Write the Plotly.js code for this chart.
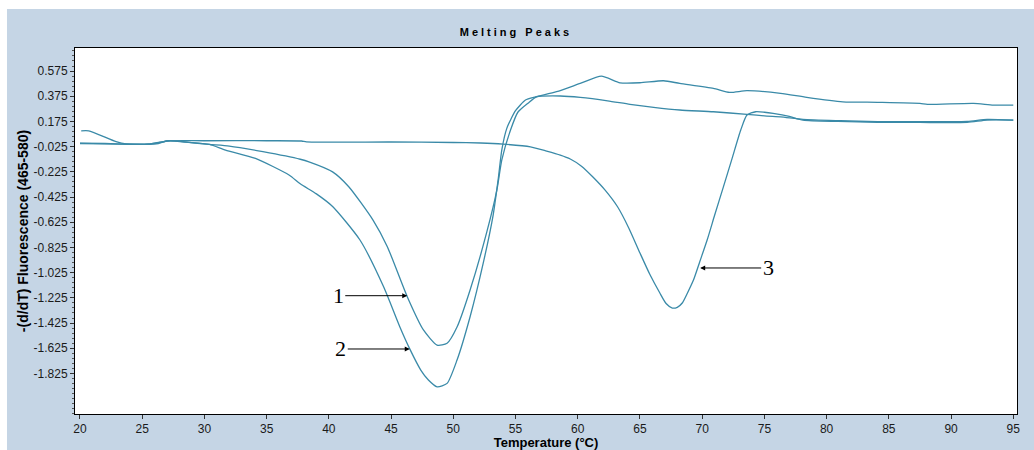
<!DOCTYPE html>
<html>
<head>
<meta charset="utf-8">
<script src="https://cdn.plot.ly/plotly-3.0.1.min.js"></script>
<style>html,body{margin:0;padding:0;background:#fff;}#chart{width:1034px;height:450px;}</style>
</head>
<body>
<div id="chart"></div>
<script>
// Temperature (°C) and -(d/dT) Fluorescence values
const t1 = [20.1, 20.7, 22.9, 23.7, 25.5, 26.4, 27.2, 28.5, 30.4, 32.0, 34.7, 37.7, 38.4, 40.3, 41.6, 43.55, 44.7, 46.3, 47.6, 48.7, 49.5, 50.3, 51.35, 52.7, 53.5, 53.9, 54.6, 55.2, 56.0, 56.7, 58.6, 60.2, 62.4, 64.2, 66.1, 68.2, 70.9, 73.6, 75.2, 76.3, 78.1, 81.1, 84.1, 86.5, 91.3, 92.9, 95.0];
const v1 = [0.101, 0.101, 0.014, -0.004, -0.004, 0.010, 0.022, 0.011, -0.007, -0.020, -0.065, -0.125, -0.145, -0.225, -0.343, -0.608, -0.819, -1.216, -1.480, -1.600, -1.586, -1.457, -1.163, -0.700, -0.370, -0.130, 0.107, 0.250, 0.320, 0.370, 0.377, 0.366, 0.339, 0.311, 0.287, 0.266, 0.252, 0.231, 0.218, 0.212, 0.192, 0.181, 0.173, 0.173, 0.176, 0.192, 0.186];

const t2 = [20.0, 22.0, 24.0, 25.5, 26.5, 27.2, 28.5, 30.4, 31.7, 34.1, 36.8, 37.7, 39.0, 40.3, 42.5, 44.4, 45.7, 46.5, 47.4, 48.0, 48.7, 49.5, 50.3, 51.35, 52.4, 53.2, 53.6, 53.9, 54.3, 55.0, 55.8, 56.6, 58.3, 60.2, 61.9, 63.4, 65.0, 66.9, 68.2, 70.9, 72.2, 73.6, 76.3, 78.4, 81.3, 84.1, 87.5, 88.1, 91.8, 93.4, 95.0];
const v2 = [0.003, 0.000, -0.005, -0.006, 0.010, 0.022, 0.012, -0.007, -0.052, -0.118, -0.250, -0.320, -0.400, -0.500, -0.766, -1.137, -1.454, -1.630, -1.800, -1.877, -1.931, -1.904, -1.719, -1.375, -0.952, -0.570, -0.290, -0.050, 0.120, 0.260, 0.345, 0.370, 0.411, 0.477, 0.535, 0.482, 0.482, 0.498, 0.477, 0.438, 0.406, 0.419, 0.398, 0.366, 0.331, 0.327, 0.319, 0.311, 0.319, 0.305, 0.305];

const t3 = [20.0, 22.0, 24.0, 25.5, 26.3, 27.0, 30.0, 35.0, 37.8, 38.2, 45.0, 50.0, 52.2, 54.0, 56.2, 57.5, 58.6, 59.4, 60.3, 61.2, 62.2, 63.2, 64.1, 65.0, 65.8, 66.6, 67.1, 67.6, 68.0, 68.4, 68.8, 69.3, 69.8, 70.4, 71.0, 71.7, 72.4, 73.1, 73.6, 74.3, 75.0, 75.7, 77.0, 78.1, 80.9, 84.1, 87.5, 91.3, 92.9, 95.0];
const v3 = [0.000, -0.003, -0.006, -0.007, 0.000, 0.020, 0.022, 0.022, 0.020, 0.013, 0.012, 0.008, 0.004, -0.005, -0.026, -0.060, -0.092, -0.123, -0.180, -0.264, -0.370, -0.502, -0.670, -0.869, -1.040, -1.187, -1.270, -1.306, -1.300, -1.266, -1.190, -1.084, -0.940, -0.766, -0.570, -0.346, -0.120, 0.107, 0.226, 0.252, 0.248, 0.239, 0.215, 0.186, 0.175, 0.168, 0.167, 0.168, 0.186, 0.186];

const xTicks = [20, 25, 30, 35, 40, 45, 50, 55, 60, 65, 70, 75, 80, 85, 90, 95];
const yTicks = [0.575, 0.375, 0.175, -0.025, -0.225, -0.425, -0.625, -0.825, -1.025, -1.225, -1.425, -1.625, -1.825];
const yTickText = ['0.575', '0.375', '0.175', '-0.025', '-0.225', '-0.425', '-0.625', '-0.825', '-1.025', '-1.225', '-1.425', '-1.625', '-1.825'];

const labels = ['1', '2', '3'];
const arrowTipX = [46.3, 46.5, 69.84];
const arrowTipY = [-1.208, -1.631, -0.988];

const lineColor = 'rgb(58,138,168)';
const mk = (x, y, name) => ({x: x, y: y, name: name, type: 'scatter', mode: 'lines',
  line: {color: lineColor, width: 1.3, shape: 'spline', smoothing: 0.6}, hoverinfo: 'x+y'});

const data = [mk(t1, v1, 'Sample 1'), mk(t2, v2, 'Sample 2'), mk(t3, v3, 'Sample 3')];

const axisFont = {family: 'Liberation Sans, Arial, sans-serif', size: 12, color: '#1a1a1a'};
const ann = labels.map((lab, i) => ({
  x: arrowTipX[i], y: arrowTipY[i], xref: 'x', yref: 'y',
  text: lab, showarrow: true, arrowhead: 2, arrowsize: 1, arrowwidth: 1, arrowcolor: '#000',
  ax: i === 2 ? 68 : -69, ay: 0,
  font: {family: 'Liberation Serif, Times New Roman, serif', size: 22, color: '#000'}
}));

const layout = {
  width: 1034, height: 450,
  paper_bgcolor: '#c5d5e5', plot_bgcolor: '#ffffff',
  margin: {l: 75, r: 17, t: 48, b: 36, pad: 0},
  showlegend: false,
  title: {text: '<span style="letter-spacing:3px">Melting Peaks</span>', x: 0.499, xanchor: 'center', y: 0.929, yanchor: 'middle',
    font: {family: 'Liberation Sans, Arial, sans-serif', size: 11, color: '#000', weight: 900}},
  xaxis: {range: [19.6, 95.3], tickmode: 'array', tickvals: xTicks, ticks: 'outside', ticklen: 4, tickcolor: '#333',
    showline: true, mirror: true, linecolor: '#000', linewidth: 1, showgrid: false, zeroline: false,
    tickfont: axisFont, automargin: false,
    title: {text: 'Temperature (°C)', standoff: 3, font: {family: 'Liberation Sans, Arial, sans-serif', size: 13, color: '#000', weight: 'bold'}}},
  yaxis: {range: [-2.147, 0.758], tickmode: 'array', tickvals: yTicks, ticktext: yTickText, ticks: 'outside', ticklen: 4, tickcolor: '#333',
    minor: {tick0: -0.025, dtick: 0.04, ticks: 'outside', ticklen: 2, tickcolor: '#555'},
    showline: true, mirror: true, linecolor: '#000', linewidth: 1, showgrid: false, zeroline: false,
    tickfont: axisFont, automargin: false,
    title: {text: '-(d/dT) Fluorescence (465-580)', standoff: 1, font: {family: 'Liberation Sans, Arial, sans-serif', size: 14, color: '#000', weight: 'bold'}}},
  shapes: [
    {type: 'rect', xref: 'paper', yref: 'paper', x0: -0.1, x1: 1.05, y0: 1.1066, y1: 1.2, fillcolor: '#fff', line: {width: 0}, layer: 'above'},
    {type: 'rect', xref: 'paper', yref: 'paper', x0: -0.1, x1: -0.0722, y0: -0.2, y1: 1.2, fillcolor: '#fff', line: {width: 0}, layer: 'above'}
  ],
  annotations: ann
};

Plotly.newPlot('chart', data, layout, {displayModeBar: false, staticPlot: true});
</script>
</body>
</html>
